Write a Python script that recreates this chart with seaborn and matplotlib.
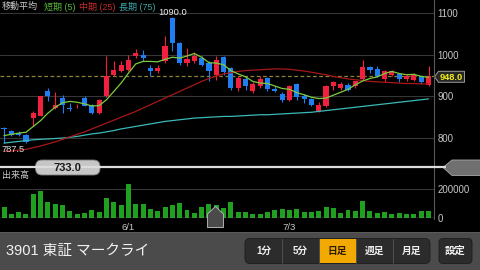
import matplotlib
matplotlib.use("Agg")
import matplotlib.pyplot as plt
import matplotlib.transforms as mtrans
from matplotlib.patches import Polygon, FancyBboxPatch, Rectangle
import pandas as pd
import seaborn as sns

# ---------------- data ----------------
opens = [824, 818, 812, 808, 848, 854, 913, 872, 896, 872, 876, 896, 880, 860, 900,
         952, 960, 964, 996, 1000, 968, 962, 984, 1088, 1028, 980, 984, 992, 980, 952,
         994, 968, 920, 942, 912, 924, 944, 918, 906, 892, 930, 902, 894, 864, 876,
         924, 920, 928, 924, 942, 970, 966, 942, 952, 954, 942, 940, 948, 928]
highs = [826, 820, 816, 810, 866, 902, 920, 910, 904, 884, 882, 900, 882, 895, 996,
         984, 986, 1000, 1014, 1012, 976, 976, 1044, 1090, 1030, 1016, 1006, 996, 984, 996,
         996, 970, 948, 946, 934, 948, 946, 924, 910, 928, 932, 906, 896, 886, 928,
         938, 934, 932, 938, 988, 972, 972, 964, 964, 956, 954, 956, 950, 972]
lows = [787.5, 804, 806, 789, 828, 852, 888, 870, 860, 866, 872, 876, 858, 858, 898,
        950, 958, 962, 992, 984, 948, 956, 980, 1008, 976, 972, 980, 972, 936, 940,
        952, 916, 914, 916, 908, 920, 914, 910, 886, 890, 892, 884, 876, 862, 874,
        916, 916, 912, 920, 940, 956, 946, 934, 948, 934, 938, 938, 930, 926]
closes = [821, 808, 808, 790, 860, 900, 902, 880, 880, 870, 878, 878, 860, 892, 948,
          964, 976, 988, 1004, 992, 960, 968, 1020, 1028, 980, 990, 998, 976, 960, 988,
          958, 920, 944, 924, 930, 942, 918, 912, 892, 924, 898, 894, 880, 880, 926,
          934, 930, 916, 936, 970, 964, 950, 960, 960, 942, 950, 952, 934, 948]
volumes = [75000, 30000, 39000, 30000, 166000, 184000, 109000, 98000, 89000, 48000,
           30000, 36000, 57000, 41000, 136000, 107000, 86000, 230000, 95000, 95000,
           64000, 45000, 75000, 89000, 102000, 52000, 36000, 75000, 95000, 86000,
           70000, 109000, 41000, 41000, 30000, 30000, 41000, 52000, 59000, 52000,
           61000, 41000, 41000, 50000, 75000, 68000, 36000, 57000, 45000, 118000,
           48000, 36000, 39000, 27000, 36000, 30000, 30000, 45000, 45000]
ma5 = [806, 809, 812, 814, 828, 842, 860, 874, 885, 888, 886, 882, 877, 878, 892,
       912, 932, 956, 978, 984, 984, 983, 989, 994, 992, 997, 1003, 994, 981, 980,
       976, 962, 954, 947, 936, 932, 931, 925, 919, 917, 909, 904, 898, 895, 896,
       903, 910, 917, 928, 937, 943, 947, 955, 960, 955, 952, 953, 948, 946]
ma25 = [768, 769, 771, 773, 777, 781, 786, 791, 797, 803, 809, 815, 822, 829, 836,
        843, 850, 857, 864, 872, 880, 888, 896, 904, 912, 920, 928, 936, 943, 949,
        954, 957, 960, 962, 963, 964, 965, 966, 966, 965, 963, 961, 958, 955, 952,
        948, 945, 942, 940, 938, 936, 935, 934, 933, 932, 931, 931, 930, 930]
ma75 = [788, 790, 792, 794, 796, 797, 798, 799, 800, 802, 804, 807, 810, 812, 815,
        818, 822, 825, 828, 831, 834, 837, 840, 842, 844, 846, 848, 849, 850, 851,
        852, 852, 853, 854, 855, 856, 856, 857, 858, 859, 860, 861, 862, 864, 866,
        868, 870, 872, 874, 876, 878, 880, 882, 884, 886, 888, 890, 892, 894]
date_labels = ["6/1", "7/3"]
date_index = [17, 39]
price_ticks = [800, 900, 1000, 1100]
volume_ticks = [0, 200000]
volume_tick_labels = ["0", "200000"]
last_price = 948.0
bottom_price = 733.0
cursor_index = 29
legend_items = [("移動平均", "#c8c8c8"), ("短期 (5)", "#55b83a"),
                ("中期 (25)", "#c62a2a"), ("長期 (75)", "#3aa5a5")]
volume_title = "出来高"
stock_title = "3901 東証 マークライ"
period_buttons = ["1分", "5分", "日足", "週足", "月足"]
selected_button = "日足"
settings_label = "設定"

# ---------------- style ----------------
sns.set_theme(style="dark", rc={"axes.facecolor": "black", "figure.facecolor": "black",
                                 "axes.grid": False})
plt.rcParams["font.family"] = ["Liberation Sans", "Noto Sans CJK JP", "DejaVu Sans"]

W, H = 480, 270
fig = plt.figure(figsize=(4.8, 2.7), dpi=100)
fig.patch.set_facecolor("black")

def fr(x0, y0, x1, y1):
    return [x0 / W, 1 - y1 / H, (x1 - x0) / W, (y1 - y0) / H]

n = len(closes)
idx = list(range(n))
XLIM = (-0.55, 58.75)
UP, DOWN = "#f0203e", "#1f7ff2"

df = pd.DataFrame({"i": idx, "open": opens, "high": highs, "low": lows, "close": closes,
                   "volume": volumes, "ma5": ma5, "ma25": ma25, "ma75": ma75})

# ---------------- price panel ----------------
axp = fig.add_axes(fr(0, 0, 434, 166))
axp.set_facecolor("black")
axp.set_xlim(*XLIM)
axp.set_ylim(bottom_price, bottom_price + 166 * 2.4)
for t in price_ticks:
    axp.axhline(t, color="#363636", lw=0.8, zorder=0)
axp.axhline(last_price, color="#8f8035", lw=0.9, ls=(0, (3, 2)), zorder=0.5)

colors = [UP if c >= o else DOWN for o, c in zip(opens, closes)]
axp.vlines(df["i"], df["low"], df["high"], colors=colors, lw=0.8, zorder=2)
bodies = [max(abs(c - o), 1.2) for o, c in zip(opens, closes)]
bottoms = [min(o, c) for o, c in zip(opens, closes)]
axp.bar(df["i"], bodies, bottom=bottoms, width=0.7, color=colors, zorder=2.1, lw=0)

sns.lineplot(data=df, x="i", y="ma75", ax=axp, color="#3cb8b8", lw=0.9, zorder=3)
sns.lineplot(data=df, x="i", y="ma25", ax=axp, color="#a81818", lw=0.9, zorder=3)
sns.lineplot(data=df, x="i", y="ma5", ax=axp, color="#7ccc40", lw=0.9, zorder=3.2)

axp.set_xlabel(""); axp.set_ylabel("")
axp.set_xticks([])
axp.yaxis.tick_right()
axp.set_yticks(price_ticks)
axp.set_yticklabels([str(t) for t in price_ticks])
axp.tick_params(axis="y", colors="#c8c8c8", labelsize=6.9, length=0, pad=2.5,
                labelright=True, labelleft=False)
for s in axp.spines.values():
    s.set_visible(False)

i_max = max(idx, key=lambda k: highs[k])
i_min = min(idx, key=lambda k: lows[k])
axp.annotate(f"{highs[i_max]:.1f}", xy=(i_max, highs[i_max]), xytext=(0, 0.5),
             textcoords="offset points", ha="center", va="bottom", color="#eeeeee",
             fontsize=6.7, annotation_clip=False)
axp.annotate(f"{lows[i_min]:.1f}", xy=(i_min, lows[i_min]), xytext=(-1.5, -1.5),
             textcoords="offset points", ha="left", va="top", color="#dddddd",
             fontsize=6.7, annotation_clip=False)

# ---------------- volume panel ----------------
axv = fig.add_axes(fr(0, 178, 434, 218))
axv.set_facecolor("black")
sns.barplot(data=df, x="i", y="volume", ax=axv, color="#1fa01f", saturation=1,
            width=0.68, linewidth=0)
axv.set_xlim(*XLIM)
axv.set_ylim(0, 272000)
axv.axhline(200000, color="#363636", lw=0.8, zorder=0)
axv.axhline(0, color="#8a8a8a", lw=1.0, zorder=3)
axv.set_xlabel(""); axv.set_ylabel("")
axv.set_xticks([])
axv.yaxis.tick_right()
axv.set_yticks(volume_ticks)
axv.set_yticklabels(volume_tick_labels)
axv.tick_params(axis="y", colors="#c8c8c8", labelsize=6.9, length=0, pad=2.5,
                labelright=True, labelleft=False)
for s in axv.spines.values():
    s.set_visible(False)

# ---------------- overlay (pixel coordinates) ----------------
ov = fig.add_axes([0, 0, 1, 1])
ov.set_xlim(0, W)
ov.set_ylim(H, 0)
ov.axis("off")
ov.patch.set_alpha(0)

# right axis line
ov.plot([434, 434], [0, 219], color="#5a5a5a", lw=0.8)

# legend row
lx = [2, 44, 79, 119]
for (txt, col), x in zip(legend_items, lx):
    ov.text(x, 6.5, txt, color=col, fontsize=6.5, ha="left", va="center")

# current price tag
ov.add_patch(Polygon([(434.5, 76.8), (438.5, 71.3), (464.5, 71.3), (464.5, 82.3), (438.5, 82.3)],
                     closed=True, fc="#262626", ec="#9a9a9a", lw=0.7))
ov.text(451.5, 77, f"{last_price:.1f}", color="#f2ee1a", fontsize=6.7, fontweight="bold",
        ha="center", va="center")

# slider bar
ov.plot([0, 446], [167, 167], color="#dcdcdc", lw=1.6, solid_capstyle="butt")
ov.add_patch(FancyBboxPatch((35.5, 160), 64.5, 15, boxstyle="round,pad=0,rounding_size=6.5",
                            fc="#c6c6c6", ec="#7a7a7a", lw=0.6))
ov.text(67.8, 167.8, f"{bottom_price:.1f}", color="#1a1a1a", fontsize=8, fontweight="bold",
        ha="center", va="center")
ov.add_patch(Polygon([(443, 167.5), (452, 160), (481, 160), (481, 175.5), (452, 175.5)],
                     closed=True, fc="#707070", ec="#a8a8a8", lw=0.6))

# volume title
ov.text(2, 175.5, volume_title, color="#c8c8c8", fontsize=6.5, ha="left", va="center")

# date labels under the volume panel
tr = mtrans.blended_transform_factory(axv.transData, ov.transData)
for lab, k in zip(date_labels, date_index):
    ov.text(k, 227, lab, transform=tr, color="#c8c8c8", fontsize=6.8, ha="center", va="center")

# cursor marker
ccx = axv.transData.transform((cursor_index, 0))[0]
ccx = ov.transData.inverted().transform((ccx, 0))[0] - 0.8
ov.add_patch(Polygon([(ccx, 206.5), (ccx + 8, 214), (ccx + 8, 227.5), (ccx - 8, 227.5), (ccx - 8, 214)],
                     closed=True, fc="#4a4a4a", ec="#b0b0b0", lw=0.7, zorder=5))

# bottom toolbar
ov.add_patch(Rectangle((0, 232), W, 38, fc="#4b4b4b", ec="none", zorder=6))
ov.plot([0, W], [232.3, 232.3], color="#5e5e5e", lw=0.6, zorder=6.1)
ov.text(6, 251, stock_title, color="#f2f2f2", fontsize=10.5, ha="left", va="center", zorder=7)

seg_x = [245, 282, 319, 356, 393, 430]
ov.add_patch(FancyBboxPatch((seg_x[0], 238.5), seg_x[-1] - seg_x[0], 25,
                            boxstyle="round,pad=0,rounding_size=5",
                            fc="#2c2c2c", ec="#1c1c1c", lw=0.6, zorder=6.5))
for k, lab in enumerate(period_buttons):
    x0, x1 = seg_x[k], seg_x[k + 1]
    if lab == selected_button:
        ov.add_patch(Rectangle((x0 + 0.5, 238.8), x1 - x0 - 1, 24.4, fc="#f2a900",
                               ec="none", zorder=6.7))
        tc = "#2a1a00"
    else:
        tc = "#f0f0f0"
    if k > 0:
        ov.plot([x0, x0], [239, 263], color="#555555", lw=0.6, zorder=6.8)
    ov.text((x0 + x1) / 2, 251, lab, color=tc, fontsize=7, fontweight="bold",
            ha="center", va="center", zorder=7)
ov.add_patch(FancyBboxPatch((439, 238.5), 33, 25, boxstyle="round,pad=0,rounding_size=4",
                            fc="#2c2c2c", ec="#1c1c1c", lw=0.6, zorder=6.5))
ov.text(455.5, 251, settings_label, color="#f0f0f0", fontsize=7.5, fontweight="bold",
        ha="center", va="center", zorder=7)

fig.savefig("out.png", dpi=100, facecolor="black")
